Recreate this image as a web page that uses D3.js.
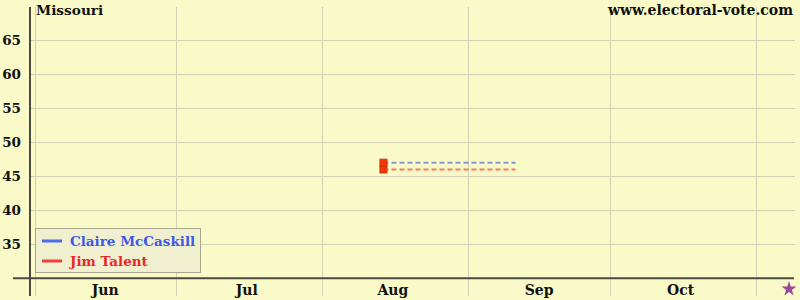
<!DOCTYPE html>
<html><head><meta charset="utf-8">
<script src="https://cdn.jsdelivr.net/npm/d3@7"></script>
<style>
html,body{margin:0;padding:0;background:#fafac8;}
svg{display:block;}
</style></head>
<body>
<svg id="c" width="800" height="300"></svg>
<script>
// ---- data ----
const title = "Missouri";
const site = "www.electoral-vote.com";
const seriesNames = ["Claire McCaskill", "Jim Talent"];
const pollDates = ["2006-08-14"];
const mccaskill = [47];
const talent = [46];
const currentDate = "2006-09-11";
const electionDate = "2006-11-08";
const monthLabels = ["Jun", "Jul", "Aug", "Sep", "Oct"];
const yTicks = [35, 40, 45, 50, 55, 60, 65];

// ---- layout ----
const FONT = "'DejaVu Serif', 'Liberation Serif', serif";
const parse = d3.utcParse("%Y-%m-%d");
const svg = d3.select("#c");
const x = d3.scaleUtc().domain([parse("2006-06-01"), parse("2006-11-01")]).range([34.5, 756]);
const y = d3.scaleLinear().domain([30, 70]).range([278.3, 6.3]);
const colors = ["#3355ee", "#ee2222"];
const textColors = ["#4058e8", "#e82828"];

svg.append("rect").attr("width", 800).attr("height", 300).attr("fill", "#fafac8");

// gridlines
const monthStarts = d3.utcMonth.range(parse("2006-06-01"), parse("2006-11-02"));
svg.append("g").selectAll("line").data(monthStarts).join("line")
  .attr("x1", d => Math.round(x(d)) + 0.5).attr("x2", d => Math.round(x(d)) + 0.5)
  .attr("y1", 7).attr("y2", 296)
  .attr("stroke", "#d2d2b4").attr("stroke-width", 1);
svg.append("g").selectAll("line").data(yTicks).join("line")
  .attr("x1", 30).attr("x2", 795)
  .attr("y1", d => Math.round(y(d)) + 0.5).attr("y2", d => Math.round(y(d)) + 0.5)
  .attr("stroke", "#d2d2b4").attr("stroke-width", 1);

// axes lines
svg.append("line").attr("x1", 30).attr("x2", 30).attr("y1", 7).attr("y2", 296)
  .attr("stroke", "#4a4a40").attr("stroke-width", 2);
svg.append("line").attr("x1", 13).attr("x2", 794).attr("y1", y(30)).attr("y2", y(30))
  .attr("stroke", "#4a4a40").attr("stroke-width", 2);

// y tick labels
svg.append("g").selectAll("text").data(yTicks).join("text")
  .attr("x", 21).attr("y", d => y(d) + 5)
  .attr("text-anchor", "end").style("font-family", FONT).style("font-size", "13.5px").style("font-weight", "bold")
  .attr("fill", "#111").text(d => d);

// month labels (centred mid-month)
svg.append("g").selectAll("text").data(monthLabels).join("text")
  .attr("x", (d, i) => x(d3.utcDay.offset(monthStarts[i], 15)))
  .attr("y", 295).attr("text-anchor", "middle")
  .style("font-family", FONT).style("font-size", "14px").style("font-weight", "bold")
  .attr("fill", "#111").text(d => d);

// title & site
svg.append("text").attr("x", 36).attr("y", 15)
  .style("font-family", FONT).style("font-size", "13.7px").style("font-weight", "bold")
  .attr("fill", "#111").text(title);
svg.append("text").attr("x", 793).attr("y", 15).attr("text-anchor", "end")
  .style("font-family", FONT).style("font-size", "14px").style("font-weight", "bold")
  .attr("fill", "#111").text(site);

// series
const series = [mccaskill, talent];
series.forEach((vals, si) => {
  const pts = pollDates.map((d, i) => ({ d: parse(d), v: vals[i] }));
  const last = pts[pts.length - 1];
  const ext = pts.concat([{ d: parse(currentDate), v: last.v }]);
  svg.append("path")
    .attr("d", d3.line().x(p => x(p.d)).y(p => y(p.v))(ext))
    .attr("fill", "none").attr("stroke", colors[si]).attr("stroke-opacity", 0.6)
    .attr("stroke-width", 2).attr("stroke-dasharray", "5,3");
  svg.append("g").selectAll("rect").data(pts).join("rect")
    .attr("x", p => x(p.d) - 3.5).attr("y", p => y(p.v) - 3.5)
    .attr("width", 7).attr("height", 7)
    .attr("fill", "#ff3300").attr("stroke", "#b83a18").attr("stroke-width", 1);
});

// election star
const star = d3.symbol().type(d3.symbolStar).size(70);
svg.append("path").attr("d", star())
  .attr("transform", `translate(${x(parse(electionDate))},${289})`)
  .attr("fill", "#9a4a9a");

// legend
const lg = svg.append("g");
lg.append("rect").attr("x", 35.5).attr("y", 228.5).attr("width", 165).attr("height", 44)
  .attr("fill", "#f0f0d0").attr("stroke", "#a8a890").attr("stroke-width", 1);
seriesNames.forEach((n, i) => {
  const yy = 241 + i * 20;
  lg.append("line").attr("x1", 42).attr("x2", 62).attr("y1", yy).attr("y2", yy)
    .attr("stroke", colors[i]).attr("stroke-width", 3).attr("stroke-opacity", 0.85);
  lg.append("text").attr("x", 70).attr("y", yy + 5)
    .style("font-family", FONT).style("font-size", "13.5px").style("font-weight", "bold")
    .attr("fill", textColors[i]).text(n);
});
</script>
</body></html>
